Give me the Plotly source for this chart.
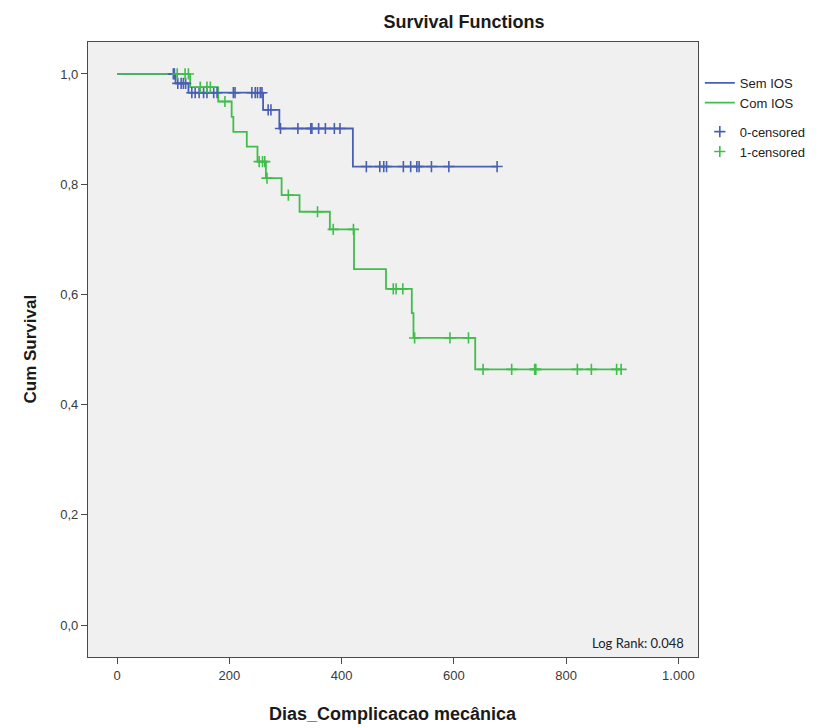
import plotly.graph_objects as go

# Kaplan-Meier step data: event times (days) and survival after each event
sem_times = [0, 104, 127, 260, 289, 420]
sem_surv = [1.0, 0.983, 0.966, 0.935, 0.901, 0.832]
sem_end = 677
sem_censored = [100, 102, 108, 114, 118, 122,
                133, 139, 146, 154, 160, 172, 178, 207, 210, 240, 246, 250, 255, 258,
                269, 274,
                291, 322, 345, 347, 359, 371, 387, 397,
                444, 468, 475, 480, 510, 523, 534, 538, 560, 591, 677]

com_times = [0, 130, 180, 204, 207, 231, 250, 265, 293, 325, 379, 422, 479, 525, 528, 638]
com_surv = [1.0, 0.976, 0.950, 0.922, 0.895, 0.868, 0.841, 0.811, 0.780, 0.750,
            0.718, 0.646, 0.610, 0.566, 0.521, 0.464]
com_end = 898
com_censored = [107, 121, 127, 148, 160, 166, 192, 253, 259, 263, 267, 305, 357,
                385, 421, 492, 497, 509, 530, 593, 626,
                652, 703, 744, 746, 820, 845, 890, 898]

x_ticks = [0, 200, 400, 600, 800, 1000]
y_ticks = [0.0, 0.2, 0.4, 0.6, 0.8, 1.0]

BLUE = "#4760b3"
GREEN = "#41bd4c"
FONT = "Liberation Sans, Arial, sans-serif"


def surv_at(t, times, surv):
    s = surv[0]
    for ti, si in zip(times, surv):
        if ti <= t:
            s = si
    return s


fig = go.Figure()

for name, times, surv, end, color in [
    ("Sem IOS", sem_times, sem_surv, sem_end, BLUE),
    ("Com IOS", com_times, com_surv, com_end, GREEN),
]:
    fig.add_trace(go.Scatter(
        x=times + [end], y=surv + [surv[-1]], mode="lines", name=name,
        legendgroup="curves",
        line=dict(color=color, width=1.8, shape="hv"),
    ))

for name, cens, times, surv, color in [
    ("0-censored", sem_censored, sem_times, sem_surv, BLUE),
    ("1-censored", com_censored, com_times, com_surv, GREEN),
]:
    fig.add_trace(go.Scatter(
        x=cens, y=[surv_at(t, times, surv) for t in cens], mode="markers", name=name,
        legendgroup="censored",
        marker=dict(symbol="cross-thin", size=8, line=dict(color=color, width=1.6)),
    ))

axis_common = dict(
    showline=True, mirror=True, linecolor="#4a4a4a", linewidth=1.2,
    ticks="outside", ticklen=6, tickcolor="#4a4a4a", tickwidth=1.2,
    showgrid=False, zeroline=False,
    tickfont=dict(family=FONT, size=13, color="#3a3a3a"),
)

fig.update_xaxes(range=[-52, 1035], tickvals=x_ticks, tickformat=",d", **axis_common)
fig.update_yaxes(range=[-0.058, 1.058], tickvals=y_ticks, tickformat=".1f", **axis_common)

fig.update_layout(
    width=826, height=728,
    margin=dict(l=88, r=128, t=42, b=71),
    paper_bgcolor="white", plot_bgcolor="#f0f0f0",
    separators=",.",
    title=dict(text="<b>Survival Functions</b>", x=464 / 826, xanchor="center",
               y=1 - 22 / 728, yanchor="middle",
               font=dict(family=FONT, size=18, color="#1a1a1a")),
    legend=dict(x=1.003, y=0.958, xanchor="left", yanchor="top",
                font=dict(family=FONT, size=13, color="#222"),
                bgcolor="rgba(0,0,0,0)", tracegroupgap=9, itemwidth=30),
    showlegend=True,
    annotations=[
        dict(text="<b>Dias_Complicacao mecânica</b>", xref="paper", yref="paper",
             x=0.5, y=-(714 - 657) / 615, xanchor="center", yanchor="middle",
             showarrow=False, font=dict(family=FONT, size=18, color="#1a1a1a")),
        dict(text="<b>Cum Survival</b>", xref="paper", yref="paper",
             x=(30 - 88) / 610, y=0.5, xanchor="center", yanchor="middle",
             textangle=-90, showarrow=False,
             font=dict(family=FONT, size=17, color="#1a1a1a")),
        dict(text="Log Rank: 0.048", xref="paper", yref="paper",
             x=(686 - 88) / 610, y=(657 - 643) / 615, xanchor="right", yanchor="middle",
             showarrow=False, font=dict(family="Lato, sans-serif", size=13, color="#222")),
    ],
)

fig.write_html("out.html")
